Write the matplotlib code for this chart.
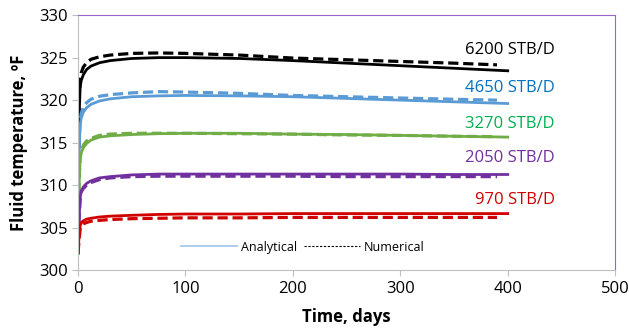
import matplotlib
matplotlib.use('Agg')
import matplotlib.pyplot as plt
from matplotlib.lines import Line2D

plt.rcParams['font.family'] = ['Open Sans', 'DejaVu Sans']

# time, days
t_ana = [0, 1, 2, 3, 5, 8, 12, 20, 30, 50, 75, 100, 150, 200, 250, 300, 350, 400]
t_num = [0, 1, 2, 3, 5, 8, 12, 20, 30, 50, 75, 100, 150, 200, 250, 300, 350, 390]

rates = ['6200 STB/D', '4650 STB/D', '3270 STB/D', '2050 STB/D', '970 STB/D']

ana_6200 = [302, 318, 321.5, 322.3, 323.0, 323.6, 324.0, 324.4, 324.65, 324.9, 325.0, 325.0, 324.9, 324.65, 324.35, 324.05, 323.75, 323.45]
num_6200 = [302, 320, 322.5, 323.2, 323.9, 324.4, 324.8, 325.1, 325.3, 325.5, 325.55, 325.5, 325.3, 324.95, 324.75, 324.55, 324.35, 324.15]
ana_4650 = [302, 314, 317, 317.9, 318.6, 319.1, 319.5, 319.9, 320.15, 320.4, 320.5, 320.55, 320.5, 320.4, 320.2, 320.0, 319.8, 319.6]
num_4650 = [302, 315, 317.5, 318.4, 319.2, 319.7, 320.1, 320.45, 320.65, 320.85, 321.0, 320.95, 320.8, 320.55, 320.4, 320.25, 320.1, 320.0]
ana_3270 = [302, 310, 313, 313.8, 314.4, 314.9, 315.3, 315.65, 315.8, 315.95, 316.05, 316.1, 316.1, 316.0, 315.95, 315.85, 315.75, 315.65]
num_3270 = [302, 310.5, 313.3, 314.0, 314.7, 315.2, 315.5, 315.85, 316.0, 316.1, 316.1, 316.1, 316.05, 316.0, 315.9, 315.85, 315.75, 315.7]
ana_2050 = [302, 306, 308.5, 309.3, 309.8, 310.2, 310.5, 310.85, 311.0, 311.2, 311.3, 311.3, 311.3, 311.3, 311.3, 311.3, 311.25, 311.25]
num_2050 = [302, 306, 308.3, 309.2, 309.6, 310.0, 310.3, 310.65, 310.85, 311.0, 311.05, 311.05, 311.05, 311.05, 311.0, 311.0, 311.0, 311.0]
ana_970 = [302, 304, 305.2, 305.6, 305.8, 306.0, 306.1, 306.25, 306.35, 306.45, 306.55, 306.6, 306.6, 306.65, 306.65, 306.65, 306.65, 306.65]
num_970 = [302, 303.5, 304.8, 305.2, 305.45, 305.6, 305.75, 305.85, 305.95, 306.05, 306.1, 306.15, 306.15, 306.2, 306.2, 306.2, 306.2, 306.2]

analytical = [ana_6200, ana_4650, ana_3270, ana_2050, ana_970]
numerical = [num_6200, num_4650, num_3270, num_2050, num_970]
line_colours = ['black', '#5b9bd5', '#70ad47', '#7030a0', '#d00000']
text_colours = ['black', '#0070c0', '#00b050', '#7030a0', '#d00000']
label_y = [325.9, 321.4, 317.2, 313.2, 308.2]

fig = plt.figure(figsize=(6.29, 3.29), dpi=100)
ax = fig.add_axes([0.124, 0.179, 0.854, 0.775])

for i in range(len(rates)):
    ax.plot(t_num, numerical[i], color=line_colours[i], lw=2.3, dashes=(3.2, 1.5))
    ax.plot(t_ana, analytical[i], color=line_colours[i], lw=2.0)
    ax.text(444, label_y[i], rates[i], color=text_colours[i], fontsize=12,
            ha='right', va='center')

ax.set_xlim(0, 500)
ax.set_ylim(300, 330)
ax.set_xticks(range(0, 501, 100))
ax.set_yticks(range(300, 331, 5))
ax.tick_params(labelsize=12, color='#bfbfbf', length=4)
ax.set_xlabel('Time, days', fontsize=12, fontweight='bold', labelpad=8)
ax.set_ylabel('Fluid temperature, ºF', fontsize=12, fontweight='bold', labelpad=8)
for side in ['left', 'bottom']:
    ax.spines[side].set_color('#bfbfbf')
for side in ['top', 'right']:
    ax.spines[side].set_color('#9966cc')

handles = [Line2D([], [], color='#9dc3e6', lw=1.2),
           Line2D([], [], color='black', lw=0.8, dashes=(2, 1.5))]
ax.legend(handles, ['Analytical', 'Numerical'], loc='lower left', bbox_to_anchor=(0.17, 0.02),
          ncol=2, frameon=False, fontsize=9, handlelength=4.5, columnspacing=0.6, handletextpad=0.3)

fig.savefig('out.png', dpi=100)
